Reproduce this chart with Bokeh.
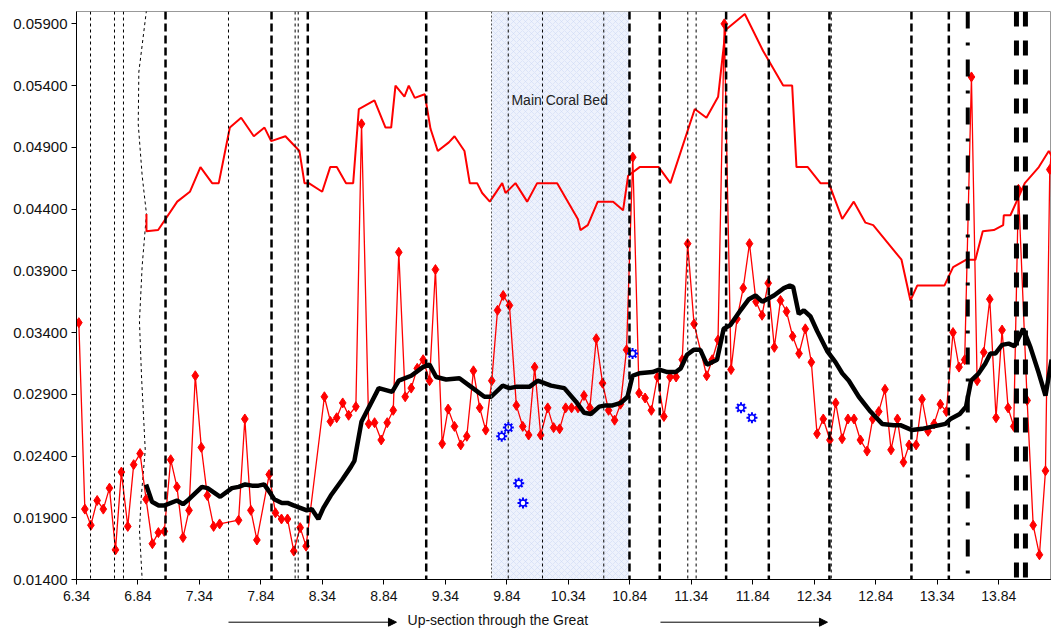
from bokeh.plotting import figure
from bokeh.layouts import column
from bokeh.models import (Range1d, FixedTicker, NumeralTickFormatter, Span, BoxAnnotation,
                          Label, Arrow, NormalHead)
from bokeh.embed import file_html
from bokeh.resources import INLINE

# ---------------- data ----------------
x_ticks = [6.34, 6.84, 7.34, 7.84, 8.34, 8.84, 9.34, 9.84, 10.34, 10.84, 11.34, 11.84, 12.34, 12.84, 13.34, 13.84]
y_ticks = [0.014, 0.019, 0.024, 0.029, 0.034, 0.039, 0.044, 0.049, 0.054, 0.059]

diam_x = [6.359, 6.408, 6.457, 6.508, 6.558, 6.608, 6.657, 6.705, 6.757, 6.805, 6.857, 6.906, 6.957, 7.006,
          7.054, 7.106, 7.157, 7.206, 7.255, 7.306, 7.355, 7.404, 7.455, 7.504, 7.658, 7.709, 7.758, 7.807,
          7.907, 7.958, 8.007, 8.056, 8.107, 8.159, 8.207, 8.356, 8.405, 8.456, 8.505, 8.553, 8.612, 8.658,
          8.716, 8.764, 8.818, 8.867, 8.916, 8.961, 9.013, 9.062, 9.111, 9.159, 9.211, 9.259, 9.314, 9.362,
          9.414, 9.465, 9.514, 9.568, 9.619, 9.668, 9.717, 9.764, 9.810, 9.861, 9.917, 9.969, 10.017, 10.066,
          10.115, 10.172, 10.220, 10.269, 10.318, 10.366, 10.418, 10.467, 10.515, 10.567, 10.618, 10.667,
          10.716, 10.764, 10.813, 10.864, 10.915, 10.964, 11.015, 11.064, 11.117, 11.167, 11.216, 11.266,
          11.310, 11.362, 11.465, 11.510, 11.557, 11.608, 11.663, 11.711, 11.762, 11.813, 11.866, 11.915,
          11.965, 12.015, 12.065, 12.114, 12.164, 12.216, 12.267, 12.316, 12.362, 12.413, 12.467, 12.514,
          12.566, 12.614, 12.663, 12.715, 12.769, 12.815, 12.864, 12.915, 12.964, 13.016, 13.065, 13.111,
          13.168, 13.216, 13.265, 13.314, 13.365, 13.414, 13.468, 13.517, 13.563, 13.618, 13.664, 13.718,
          13.767, 13.818, 13.867, 13.916, 13.962, 14.000, 14.071, 14.120, 14.171, 14.220, 14.255, 14.300]
diam_y = [0.0348, 0.0197, 0.0184, 0.0204, 0.0197, 0.0214, 0.0164, 0.0227, 0.0183, 0.0233, 0.0242, 0.0205,
          0.0169, 0.0178, 0.0179, 0.0237, 0.0215, 0.0174, 0.0196, 0.0305, 0.0247, 0.0208, 0.0183, 0.0185,
          0.0188, 0.0270, 0.0196, 0.0172, 0.0225, 0.0194, 0.0189, 0.0189, 0.0163, 0.0182, 0.0167, 0.0288,
          0.0268, 0.0271, 0.0283, 0.0273, 0.0280, 0.0509, 0.0266, 0.0267, 0.0253, 0.0267, 0.0277, 0.0405,
          0.0288, 0.0295, 0.0311, 0.0318, 0.0301, 0.0391, 0.0250, 0.0278, 0.0264, 0.0249, 0.0256, 0.0309,
          0.0279, 0.0261, 0.0301, 0.0358, 0.0370, 0.0362, 0.0281, 0.0264, 0.0257, 0.0312, 0.0257, 0.0279,
          0.0263, 0.0262, 0.0279, 0.0279, 0.0279, 0.0289, 0.0279, 0.0335, 0.0299, 0.0277, 0.0269, 0.0282,
          0.0326, 0.0482, 0.0291, 0.0287, 0.0277, 0.0304, 0.0272, 0.0304, 0.0304, 0.0318, 0.0412, 0.0347,
          0.0305, 0.0318, 0.0334, 0.0590, 0.0310, 0.0351, 0.0376, 0.0412, 0.0365, 0.0354, 0.0380, 0.0328,
          0.0366, 0.0357, 0.0337, 0.0323, 0.0343, 0.0316, 0.0258, 0.0270, 0.0253, 0.0283, 0.0254, 0.0270,
          0.0270, 0.0253, 0.0244, 0.0270, 0.0276, 0.0294, 0.0245, 0.0270, 0.0235, 0.0249, 0.0249, 0.0286,
          0.0260, 0.0266, 0.0282, 0.0276, 0.0340, 0.0312, 0.0318, 0.0547, 0.0301, 0.0324, 0.0367, 0.0271,
          0.0342, 0.0279, 0.0264, 0.0456, 0.0285, 0.0184, 0.0160, 0.0228, 0.0472, 0.0520]

upper_x = [6.909, 6.909, 7.004, 7.159, 7.262, 7.348, 7.443, 7.497, 7.587, 7.679, 7.782, 7.869, 7.923, 8.039,
           8.153, 8.194, 8.229, 8.338, 8.403, 8.457, 8.532, 8.590, 8.636, 8.763, 8.853, 8.899, 8.934, 9.007,
           9.042, 9.091, 9.172, 9.219, 9.278, 9.368, 9.414, 9.495, 9.538, 9.598, 9.639, 9.701, 9.802, 9.829,
           9.910, 10.005, 10.086, 10.249, 10.417, 10.438, 10.498, 10.579, 10.704, 10.785, 10.826, 10.920,
           11.075, 11.170, 11.368, 11.463, 11.558, 11.618, 11.775, 11.924, 12.087, 12.160, 12.195, 12.287,
           12.390, 12.458, 12.567, 12.661, 12.756, 12.819, 13.049, 13.122, 13.177, 13.398, 13.469, 13.577,
           13.650, 13.710, 13.800, 13.876, 13.881, 13.935, 14.052, 14.166, 14.247, 14.270]
upper_y = [0.0436, 0.0422, 0.0423, 0.0446, 0.0454, 0.0474, 0.0461, 0.0461, 0.0506, 0.0514, 0.0499, 0.0506,
           0.0495, 0.0499, 0.0487, 0.0461, 0.0461, 0.0454, 0.0474, 0.0474, 0.0461, 0.0461, 0.0521, 0.0528,
           0.0506, 0.0506, 0.0540, 0.0531, 0.0540, 0.0530, 0.0533, 0.0505, 0.0487, 0.0494, 0.0499, 0.0487,
           0.0461, 0.0461, 0.0453, 0.0446, 0.0461, 0.0453, 0.0461, 0.0446, 0.0461, 0.0461, 0.0432, 0.0423,
           0.0427, 0.0446, 0.0446, 0.0439, 0.0467, 0.0474, 0.0474, 0.0461, 0.0521, 0.0514, 0.0531, 0.0585,
           0.0598, 0.0568, 0.0540, 0.0540, 0.0474, 0.0474, 0.0461, 0.0461, 0.0432, 0.0446, 0.0429, 0.0427,
           0.0399, 0.0366, 0.0378, 0.0378, 0.0393, 0.0399, 0.0399, 0.0422, 0.0423, 0.0427, 0.0435, 0.0435,
           0.0461, 0.0474, 0.0487, 0.0483]

avg_x = [6.906, 6.954, 7.008, 7.057, 7.157, 7.206, 7.255, 7.360, 7.406, 7.509, 7.604, 7.658, 7.712, 7.767,
         7.820, 7.866, 7.902, 7.948, 8.010, 8.056, 8.105, 8.159, 8.213, 8.253, 8.307, 8.348, 8.408, 8.502,
         8.570, 8.600, 8.658, 8.731, 8.798, 8.907, 8.961, 9.062, 9.157, 9.211, 9.265, 9.346, 9.454, 9.549,
         9.657, 9.712, 9.806, 9.860, 9.914, 10.023, 10.090, 10.199, 10.307, 10.402, 10.469, 10.523, 10.591,
         10.645, 10.699, 10.767, 10.821, 10.862, 10.916, 11.024, 11.078, 11.146, 11.213, 11.254, 11.305,
         11.359, 11.413, 11.467, 11.549, 11.603, 11.657, 11.740, 11.808, 11.862, 11.917, 12.012, 12.093,
         12.141, 12.168, 12.214, 12.255, 12.309, 12.364, 12.445, 12.512, 12.567, 12.621, 12.702, 12.797,
         12.892, 12.986, 13.040, 13.135, 13.216, 13.311, 13.407, 13.447, 13.523, 13.574, 13.615, 13.677,
         13.731, 13.772, 13.812, 13.867, 13.921, 13.968, 14.039, 14.098, 14.166, 14.220, 14.270]
avg_y = [0.0217, 0.0203, 0.0200, 0.0200, 0.0204, 0.0201, 0.0205, 0.0215, 0.0214, 0.0207, 0.0214, 0.0215,
         0.0217, 0.0216, 0.0216, 0.0217, 0.0212, 0.0205, 0.0202, 0.0202, 0.0200, 0.0198, 0.0196, 0.0197,
         0.0189, 0.0198, 0.0208, 0.0221, 0.0231, 0.0236, 0.0268, 0.0282, 0.0295, 0.0292, 0.0301, 0.0305,
         0.0312, 0.0314, 0.0304, 0.0302, 0.0303, 0.0296, 0.0288, 0.0288, 0.0297, 0.0295, 0.0296, 0.0296,
         0.0301, 0.0297, 0.0295, 0.0284, 0.0275, 0.0274, 0.0280, 0.0281, 0.0281, 0.0283, 0.0288, 0.0305,
         0.0307, 0.0308, 0.0310, 0.0308, 0.0308, 0.0311, 0.0322, 0.0326, 0.0326, 0.0314, 0.0318, 0.0343,
         0.0346, 0.0358, 0.0367, 0.0370, 0.0365, 0.0370, 0.0376, 0.0378, 0.0377, 0.0355, 0.0358, 0.0353,
         0.0341, 0.0325, 0.0316, 0.0307, 0.0301, 0.0288, 0.0276, 0.0266, 0.0265, 0.0265, 0.0261, 0.0262,
         0.0264, 0.0266, 0.0270, 0.0274, 0.0280, 0.0301, 0.0307, 0.0315, 0.0323, 0.0323, 0.0330, 0.0331,
         0.0329, 0.0343, 0.0328, 0.0307, 0.0289, 0.0318]

star_x = [9.798, 9.852, 9.936, 9.971, 10.862, 11.744, 11.833]
star_y = [0.0256, 0.0263, 0.0218, 0.0202, 0.0323, 0.0279, 0.0271]

thin_lines = [6.454, 6.649, 6.722, 7.576, 8.118, 8.143, 9.851, 10.130, 10.628, 11.311, 11.379, 12.478]
thick_lines = [7.064, 7.926, 8.221, 9.184, 10.837, 11.083, 11.623, 11.970, 12.463, 13.130, 13.434]
dashdot_lines = [13.588]
heavy_lines = [13.984, 14.057]
coral_bed = (9.715, 10.831)

curve_x = [6.909, 6.847, 6.842, 6.874, 6.909, 6.874, 6.852, 6.869, 6.899, 6.866, 6.852, 6.874]
curve_y = [0.0601, 0.0551, 0.0509, 0.0467, 0.0436, 0.0394, 0.0349, 0.0304, 0.0245, 0.0206, 0.0180, 0.0140]

arrow_spans = [(7.576, 8.942), (11.089, 12.447)]
section_text = "Up-section through the Great"
section_text_x = 9.032

FONT = "Liberation Sans"

p = figure(width=1051, height=610, x_range=Range1d(6.34, 14.269), y_range=Range1d(0.014, 0.060),
           output_backend="svg", toolbar_location=None,
           min_border_left=76, min_border_right=0, min_border_top=11, min_border_bottom=31)
p.xgrid.visible = False
p.ygrid.visible = False
p.outline_line_color = "#999999"
p.background_fill_color = "white"
p.border_fill_color = "white"

# shaded coral bed
p.add_layout(BoxAnnotation(left=coral_bed[0], right=coral_bed[1], fill_color="#eef2fc", fill_alpha=1.0,
                           hatch_pattern="x", hatch_color="#c9d5f5", hatch_alpha=0.6, hatch_scale=6,
                           hatch_weight=0.8, line_alpha=0, level="underlay"))
p.add_layout(Span(location=coral_bed[0], dimension="height", line_color="#555555",
                  line_dash="2 2", line_width=1))

for xv in thin_lines:
    p.add_layout(Span(location=xv, dimension="height", line_color="black", line_dash="3 3", line_width=1))
for xv in thick_lines:
    p.add_layout(Span(location=xv, dimension="height", line_color="black", line_dash="8 4", line_width=2.5))
for xv in dashdot_lines:
    p.add_layout(Span(location=xv, dimension="height", line_color="black", line_dash="17 14 3 14", line_width=4))
for xv in heavy_lines:
    p.add_layout(Span(location=xv, dimension="height", line_color="black", line_dash="15 14", line_width=5))

p.line(curve_x, curve_y, line_color="black", line_dash="3 3", line_width=1)

p.line(upper_x, upper_y, line_color="#ff0000", line_width=2)
p.line(diam_x, diam_y, line_color="#ff0000", line_width=1.3)
p.scatter(diam_x, diam_y, marker="diamond", size=10, fill_color="#ff0000", line_color="#ff0000")
p.line(avg_x, avg_y, line_color="black", line_width=4.5)

p.scatter(star_x, star_y, marker="asterisk", size=11, line_color="#0000ff", line_width=2)
p.scatter(star_x, star_y, marker="circle", size=6, fill_color="white", line_color="#0000ff", line_width=1.5)

p.add_layout(Label(x=9.877, y=0.0528, text="Main Coral Bed", text_font=FONT, text_font_size="14px",
                   text_color="#222222", text_baseline="middle"))

# axes
p.xaxis.ticker = FixedTicker(ticks=x_ticks)
p.yaxis.ticker = FixedTicker(ticks=y_ticks)
p.xaxis.formatter = NumeralTickFormatter(format="0.00")
p.yaxis.formatter = NumeralTickFormatter(format="0.00000")
for ax in (p.xaxis[0], p.yaxis[0]):
    ax.axis_line_color = "black"
    ax.major_tick_line_color = "black"
    ax.major_tick_out = 5
    ax.major_tick_in = 0
    ax.minor_tick_line_color = None
    ax.major_label_text_font = FONT
    ax.major_label_text_color = "#111111"
p.xaxis.major_label_text_font_size = "14px"
p.yaxis.major_label_text_font_size = "15px"
p.xaxis.major_label_standoff = 6
p.yaxis.major_label_standoff = 4

# strip below the chart: section arrows and caption
p2 = figure(width=1051, height=18, x_range=p.x_range, y_range=Range1d(0, 1),
            output_backend="svg", toolbar_location=None, x_axis_location=None, y_axis_location=None,
            min_border_left=76, min_border_right=0, min_border_top=0, min_border_bottom=0)
p2.xgrid.visible = False
p2.ygrid.visible = False
p2.outline_line_color = None
p2.background_fill_color = "white"
p2.border_fill_color = "white"
for xs, xe in arrow_spans:
    p2.add_layout(Arrow(x_start=xs, y_start=0.35, x_end=xe, y_end=0.35, line_width=1,
                        end=NormalHead(size=8, fill_color="black", line_color="black")))
p2.add_layout(Label(x=section_text_x, y=0.5, text=section_text, text_font=FONT,
                    text_font_size="14px", text_color="#111111", text_baseline="middle"))

layout = column(p, p2, spacing=0)
open("out.html", "w").write(file_html(layout, INLINE))
